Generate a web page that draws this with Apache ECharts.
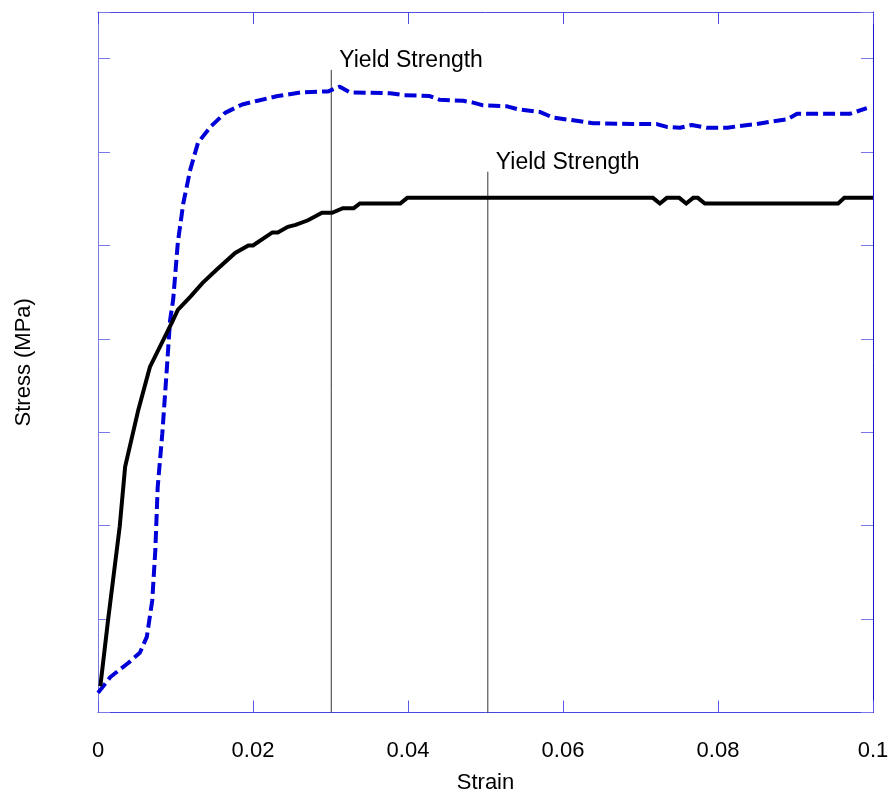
<!DOCTYPE html>
<html>
<head>
<meta charset="utf-8">
<style>
  html, body { margin: 0; padding: 0; background: #ffffff; }
  #chart { width: 889px; height: 795px; }
</style>
<script src="https://cdn.jsdelivr.net/npm/echarts@6/dist/echarts.min.js"></script>
</head>
<body>
<div id="chart"></div>
<script>
// Stress–strain curves for two specimens

// Solid black specimen
const solidStrain = [0.0003, 0.0013, 0.0028, 0.0035, 0.0052, 0.0067, 0.0095, 0.0103, 0.0119, 0.0135,
  0.0153, 0.0177, 0.0194, 0.0200, 0.0225, 0.0232, 0.0245, 0.0255, 0.0271, 0.0289, 0.0302, 0.0316,
  0.0330, 0.0338, 0.0390, 0.0399, 0.0716, 0.0725, 0.0734, 0.0743, 0.0750, 0.0759, 0.0768, 0.0774,
  0.0783, 0.0955, 0.0963, 0.1];
const solidStress = [0.28, 0.99, 1.99, 2.63, 3.24, 3.70, 4.17, 4.31, 4.45, 4.60,
  4.74, 4.92, 5.00, 5.00, 5.14, 5.14, 5.20, 5.22, 5.27, 5.35, 5.35, 5.40,
  5.40, 5.45, 5.45, 5.51, 5.51, 5.45, 5.51, 5.51, 5.51, 5.45, 5.51, 5.51,
  5.45, 5.45, 5.51, 5.51];

// Dashed blue specimen
const dashedStrain = [0.0, 0.0016, 0.0039, 0.0054, 0.0063, 0.0070, 0.0074, 0.0077, 0.0083, 0.0089,
  0.0093, 0.0097, 0.0103, 0.0110, 0.0119, 0.0129, 0.0145, 0.0164, 0.0186, 0.0206, 0.0232, 0.0263,
  0.0297, 0.0312, 0.0325, 0.0377, 0.0394, 0.0428, 0.0441, 0.0471, 0.0484, 0.0497, 0.0528, 0.0541,
  0.0570, 0.0587, 0.0622, 0.0639, 0.0690, 0.0721, 0.0734, 0.0751, 0.0766, 0.0786, 0.0812, 0.0828,
  0.0850, 0.0871, 0.0889, 0.0902, 0.0970, 0.0992];
const dashedStress = [0.21, 0.38, 0.53, 0.64, 0.81, 1.20, 1.74, 2.41, 2.99, 3.70,
  4.20, 4.42, 5.03, 5.45, 5.81, 6.10, 6.27, 6.42, 6.51, 6.55, 6.60, 6.64,
  6.65, 6.70, 6.64, 6.63, 6.61, 6.60, 6.56, 6.55, 6.53, 6.50, 6.49, 6.46,
  6.43, 6.37, 6.33, 6.31, 6.30, 6.30, 6.27, 6.26, 6.29, 6.26, 6.26, 6.28,
  6.30, 6.33, 6.35, 6.41, 6.41, 6.47];

// Yield strength markers: strain position and top of the marker line
const yieldStrain = [0.0301, 0.0503];
const yieldTop = [6.88, 5.79];
const yieldText = ['Yield Strength', 'Yield Strength'];

// Axis ranges and tick spacing
const strainMin = 0, strainMax = 0.1, strainStep = 0.02;
const stressMin = 0, stressMax = 7.5, stressStep = 1;

const zip = (xs, ys) => xs.map((x, i) => [x, ys[i]]);

const FONT = '"Liberation Sans", Arial, Helvetica, sans-serif';
const tickStyle = (color) => ({ show: true, inside: true, length: 12, lineStyle: { color: color, width: 1 } });

const chart = echarts.init(document.getElementById('chart'), null, { renderer: 'canvas' });

const markerLines = yieldStrain.map((x, i) => ({
  type: 'line',
  silent: true,
  symbol: 'none',
  data: [[x, stressMin], [x, yieldTop[i]]],
  lineStyle: { color: '#333333', width: 1 },
  z: 1
}));

chart.setOption({
  animation: false,
  backgroundColor: '#ffffff',
  grid: { left: 98, right: 16, top: 12, bottom: 82.5, containLabel: false, outerBoundsMode: 'none' },
  xAxis: [
    {
      type: 'value', position: 'bottom',
      min: strainMin, max: strainMax, interval: strainStep,
      name: 'Strain', nameLocation: 'middle', nameGap: 59,
      nameTextStyle: { fontFamily: FONT, fontSize: 22, color: '#000' },
      axisLine: { show: true, onZero: false, lineStyle: { color: '#4646e0', width: 1 } },
      axisTick: tickStyle('#5a5ae4'),
      axisLabel: { show: true, margin: 27, fontFamily: FONT, fontSize: 22, color: '#000',
        formatter: v => String(+v.toFixed(4)) },
      splitLine: { show: false }
    },
    {
      type: 'value', position: 'top',
      min: strainMin, max: strainMax, interval: strainStep,
      axisLine: { show: true, onZero: false, lineStyle: { color: '#4c4ce0', width: 1 } },
      axisTick: tickStyle('#4c4ce0'),
      axisLabel: { show: false },
      splitLine: { show: false }
    }
  ],
  yAxis: [
    {
      type: 'value', position: 'left',
      min: stressMin, max: stressMax, interval: stressStep,
      name: 'Stress (MPa)', nameLocation: 'middle', nameGap: 63, nameRotate: 90,
      nameTextStyle: { fontFamily: FONT, fontSize: 22, color: '#000' },
      axisLine: { show: true, onZero: false, lineStyle: { color: '#7878e8', width: 1 } },
      axisTick: tickStyle('#7878e8'),
      axisLabel: { show: false },
      splitLine: { show: false }
    },
    {
      type: 'value', position: 'right',
      min: stressMin, max: stressMax, interval: stressStep,
      axisLine: { show: true, onZero: false, lineStyle: { color: '#1414d4', width: 1 } },
      axisTick: tickStyle('#7878e8'),
      axisLabel: { show: false },
      splitLine: { show: false }
    }
  ],
  series: [
    ...markerLines,
    {
      type: 'scatter',
      silent: true,
      symbolSize: 0,
      data: yieldStrain.map((x, i) => [x, yieldTop[i]]),
      label: {
        show: true, position: 'right', distance: 8, offset: [0, -9],
        fontFamily: FONT, fontSize: 23, color: '#000000', opacity: 1,
        formatter: p => yieldText[p.dataIndex]
      },
      z: 3
    },
    {
      type: 'line',
      name: 'Dashed specimen',
      data: zip(dashedStrain, dashedStress),
      showSymbol: false,
      symbol: 'none',
      clip: false,
      lineStyle: { color: '#0000d8', width: 4, type: [12, 5], cap: 'butt' },
      z: 4
    },
    {
      type: 'line',
      name: 'Solid specimen',
      data: zip(solidStrain, solidStress),
      showSymbol: false,
      symbol: 'none',
      clip: false,
      lineStyle: { color: '#000000', width: 4, cap: 'butt', join: 'miter' },
      z: 5
    }
  ]
});
</script>
</body>
</html>
